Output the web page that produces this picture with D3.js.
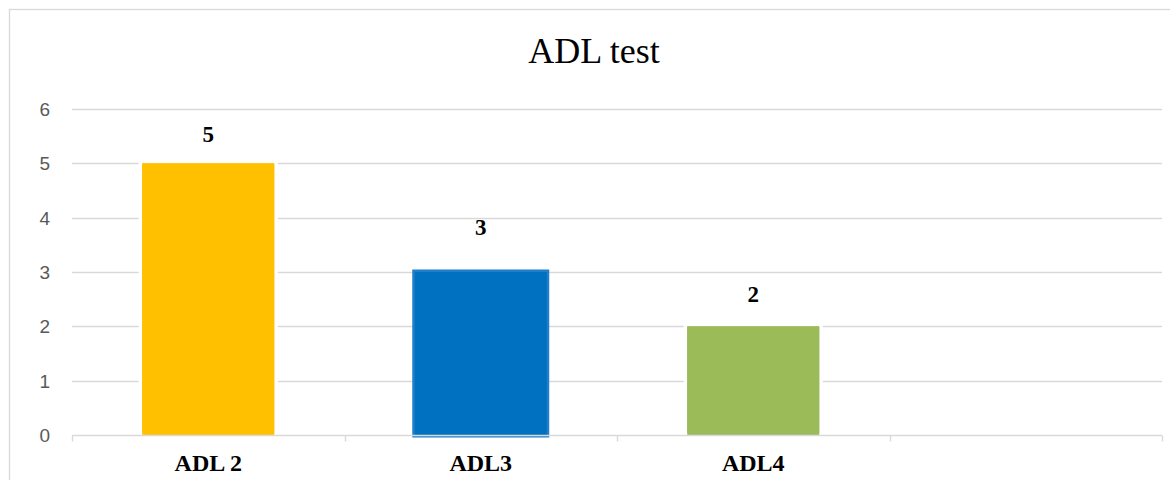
<!DOCTYPE html>
<html>
<head>
<meta charset="utf-8">
<script src="https://cdn.jsdelivr.net/npm/d3@7/dist/d3.min.js"></script>
<style>
  html, body { margin: 0; padding: 0; background: #fff; }
  svg { display: block; }
</style>
</head>
<body>
<svg id="chart" width="1170" height="480"></svg>
<script>
// Chart data
const categories = ["ADL 2", "ADL3", "ADL4", ""];
const values = [5, 3, 2, null];
const yTicks = [0, 1, 2, 3, 4, 5, 6];
const title = "ADL test";

// Styling
const barColors = ["#FFC000", "#0070C0", "#9BBB59"];
const barOutline = ["#ffffff", "#1f7fcb", "#ffffff"];
const labelLift = [21, 37, 24];
const gridColor = "#d9d9d9";

const svg = d3.select("#chart");
const W = 1170, H = 480;
const plot = { left: 72, right: 1162, top: 109, bottom: 435 };

// Outer chart frame
svg.append("rect")
  .attr("x", 9.5).attr("y", 9.5)
  .attr("width", W + 20).attr("height", H + 20)
  .attr("fill", "#fff").attr("stroke", gridColor).attr("stroke-width", 1.3);

const x = d3.scaleBand().domain(categories).range([plot.left, plot.right]).paddingInner(0).paddingOuter(0);
const y = d3.scaleLinear().domain([0, 6]).range([plot.bottom, plot.top]);

// Title
svg.append("text")
  .attr("x", 594).attr("y", 63)
  .attr("text-anchor", "middle")
  .attr("font-family", "'Liberation Serif', 'Times New Roman', serif")
  .attr("font-size", 36).attr("fill", "#000")
  .text(title);

// Horizontal gridlines (0 is drawn as the category axis)
svg.append("g").selectAll("line")
  .data(yTicks.filter(d => d > 0))
  .join("line")
  .attr("x1", plot.left).attr("x2", plot.right)
  .attr("y1", d => Math.round(y(d)) + 0.5).attr("y2", d => Math.round(y(d)) + 0.5)
  .attr("stroke", gridColor).attr("stroke-width", 1.4);

// Y tick labels
svg.append("g").selectAll("text")
  .data(yTicks)
  .join("text")
  .attr("x", 50).attr("y", d => y(d))
  .attr("dy", "0.36em")
  .attr("text-anchor", "end")
  .attr("font-family", "'Liberation Sans', Arial, sans-serif")
  .attr("font-size", 19).attr("fill", "#595959")
  .text(d => d);

const barData = categories.map((c, i) => ({ c, v: values[i], i })).filter(d => d.v != null);
const barW = 132;

// Bars with their outlines
svg.append("g").selectAll("rect")
  .data(barData)
  .join("rect")
  .attr("x", d => x(d.c) + x.bandwidth() / 2 - barW / 2)
  .attr("y", d => y(d.v))
  .attr("width", barW)
  .attr("height", d => y(0) - y(d.v))
  .attr("fill", d => barColors[d.i])
  .attr("stroke", d => barOutline[d.i])
  .attr("stroke-width", d => d.i === 1 ? 5 : 7)
  .attr("paint-order", "stroke");

// Redraw the colored fill of white-outlined bars so the outline only clears the grid
svg.append("g").selectAll("rect")
  .data(barData.filter(d => barOutline[d.i] === "#ffffff"))
  .join("rect")
  .attr("x", d => x(d.c) + x.bandwidth() / 2 - barW / 2)
  .attr("y", d => y(d.v))
  .attr("width", barW)
  .attr("height", d => y(0) - y(d.v) - 2)
  .attr("fill", d => barColors[d.i]);

// Category axis line and tick marks
const axisG = svg.append("g").attr("transform", `translate(0,${Math.round(y(0)) + 0.5})`);
axisG.append("line")
  .attr("x1", plot.left).attr("x2", plot.right)
  .attr("stroke", gridColor).attr("stroke-width", 1.4);
const edges = categories.map(c => x(c)).concat([plot.right]);
axisG.selectAll("line.tick")
  .data(edges)
  .join("line")
  .attr("class", "tick")
  .attr("x1", d => Math.round(d) + 0.5).attr("x2", d => Math.round(d) + 0.5)
  .attr("y1", 0).attr("y2", 6)
  .attr("stroke", gridColor).attr("stroke-width", 1.4);

// Category labels
svg.append("g").selectAll("text")
  .data(categories)
  .join("text")
  .attr("x", d => x(d) + x.bandwidth() / 2)
  .attr("y", 471)
  .attr("text-anchor", "middle")
  .attr("font-family", "'Liberation Serif', 'Times New Roman', serif")
  .attr("font-weight", "bold")
  .attr("font-size", 24).attr("fill", "#000")
  .text(d => d);

// Value labels
svg.append("g").selectAll("text")
  .data(barData)
  .join("text")
  .attr("x", d => x(d.c) + x.bandwidth() / 2)
  .attr("y", d => y(d.v) - labelLift[d.i])
  .attr("text-anchor", "middle")
  .attr("font-family", "'Liberation Serif', 'Times New Roman', serif")
  .attr("font-weight", "bold")
  .attr("font-size", 23).attr("fill", "#000")
  .text(d => d.v);
</script>
</body>
</html>
